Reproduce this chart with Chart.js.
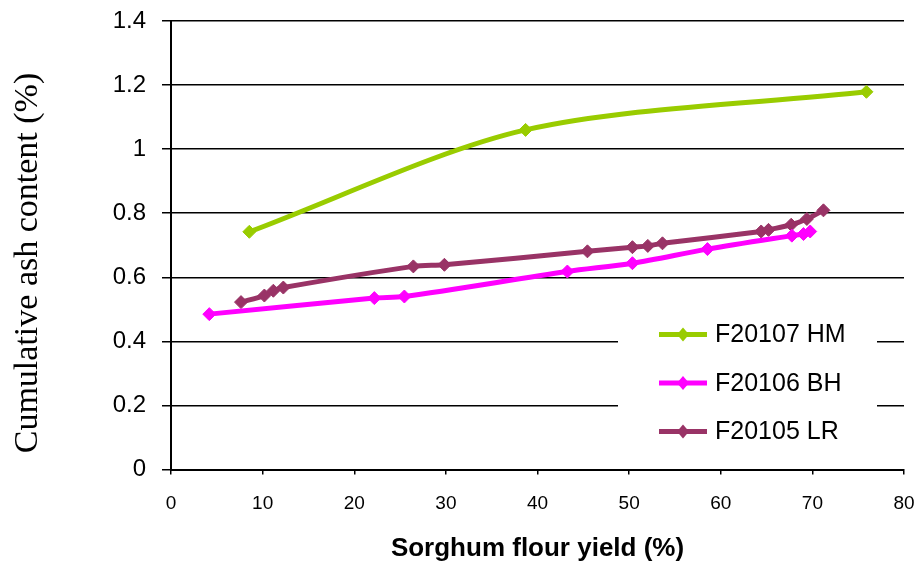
<!DOCTYPE html>
<html>
<head>
<meta charset="utf-8">
<title>Cumulative ash content vs sorghum flour yield</title>
<script src="https://cdn.jsdelivr.net/npm/chart.js@4.4.0/dist/chart.umd.min.js"></script>
<style>
  body { margin: 0; background: #fff; }
</style>
</head>
<body>
<canvas id="ashChart" width="918" height="567"></canvas>
<script>

// values
var seriesNames = ['F20107 HM', 'F20106 BH', 'F20105 LR'];

var hmYield = [8.55, 38.7, 75.9];
var hmAsh = [0.742, 1.06, 1.179];

var bhYield = [4.18, 22.19, 25.47, 43.26, 50.36, 58.55, 67.76, 69.03, 69.76];
var bhAsh = [0.485, 0.535, 0.540, 0.618, 0.644, 0.688, 0.730, 0.735, 0.743];

var lrYield = [7.64, 10.19, 11.17, 12.26, 26.45, 29.84, 45.45, 50.36, 52.04, 53.64, 64.41, 65.21, 67.69, 69.40, 71.21];
var lrAsh = [0.5225, 0.543, 0.558, 0.568, 0.634, 0.639, 0.681, 0.694, 0.698, 0.706, 0.743, 0.748, 0.764, 0.782, 0.809];

var colors = ['#99CC00', '#FF00FF', '#993366'];

function toPoints(xs, ys) {
  var pts = [];
  for (var i = 0; i < xs.length; i++) {
    pts.push({ x: xs[i], y: ys[i] });
  }
  return pts;
}

function makeSet(i, xs, ys) {
  return {
    label: seriesNames[i],
    data: toPoints(xs, ys),
    showLine: true,
    borderColor: colors[i],
    backgroundColor: colors[i],
    borderWidth: 5,
    tension: 0.3,
    pointStyle: 'rectRot',
    pointRadius: 6.5,
    pointBorderWidth: 1,
    pointBorderColor: colors[i],
    pointBackgroundColor: colors[i]
  };
}

// legend drawn inside the plot on a white box, like the original
var boxLegend = {
  id: 'boxLegend',
  afterDraw: function(chart) {
    var ctx = chart.ctx;
    var area = chart.chartArea;
    var left = area.right - 286;
    var top = area.bottom - 162;
    ctx.save();
    ctx.fillStyle = '#fff';
    ctx.fillRect(left, top, 259, 152);
    ctx.font = '25px "Liberation Sans", Arial, sans-serif';
    ctx.textBaseline = 'middle';
    ctx.textAlign = 'left';
    for (var i = 0; i < seriesNames.length; i++) {
      var y = top + 27 + i * 48.5;
      ctx.strokeStyle = colors[i];
      ctx.lineWidth = 5;
      ctx.beginPath();
      ctx.moveTo(left + 41, y);
      ctx.lineTo(left + 89, y);
      ctx.stroke();
      ctx.fillStyle = colors[i];
      ctx.beginPath();
      ctx.moveTo(left + 65, y - 7);
      ctx.lineTo(left + 71, y);
      ctx.lineTo(left + 65, y + 7);
      ctx.lineTo(left + 59, y);
      ctx.closePath();
      ctx.fill();
      ctx.fillStyle = '#000';
      ctx.fillText(seriesNames[i], left + 97, y + 1);
    }
    ctx.restore();
  }
};

// y title in a serif face, centred a bit lower than the axis
var yTitle = {
  id: 'yTitle',
  afterDraw: function(chart) {
    var ctx = chart.ctx;
    ctx.save();
    ctx.translate(28, 263);
    ctx.rotate(-Math.PI / 2);
    ctx.font = '34px "Liberation Serif", "Times New Roman", serif';
    ctx.fillStyle = '#000';
    ctx.textAlign = 'center';
    ctx.textBaseline = 'middle';
    ctx.fillText('Cumulative ash content (%)', 0, 0);
    ctx.restore();
  }
};

var myChart = document.getElementById('ashChart');

var ashChart = new Chart(myChart, {
  type: 'scatter',
  data: {
    datasets: [
      makeSet(0, hmYield, hmAsh),
      makeSet(1, bhYield, bhAsh),
      makeSet(2, lrYield, lrAsh)
    ]
  },
  options: {
    responsive: false,
    animation: false,
    devicePixelRatio: 1,
    layout: { autoPadding: false, padding: { top: 21, right: 14, left: 0, bottom: 0 } },
    plugins: {
      legend: { display: false },
      tooltip: { enabled: false }
    },
    scales: {
      x: {
        type: 'linear',
        min: 0,
        max: 80,
        ticks: {
          stepSize: 10,
          color: '#000',
          padding: 18,
          font: { family: '"Liberation Sans", Arial, sans-serif', size: 19 }
        },
        grid: { drawOnChartArea: false, color: '#000', lineWidth: 1.5, tickLength: 5 },
        border: { color: '#000', width: 2 },
        title: {
          display: true,
          text: 'Sorghum flour yield (%)',
          color: '#000',
          font: { family: '"Liberation Sans", Arial, sans-serif', size: 26, weight: 'bold' },
          padding: { top: 0, bottom: 3 }
        },
        afterFit: function(scale) {
          scale.height = 97.5;
          scale.paddingLeft = 0;
          scale.paddingRight = 0;
        }
      },
      y: {
        min: 0,
        max: 1.4,
        ticks: {
          stepSize: 0.2,
          color: '#000',
          padding: 16,
          font: { family: '"Liberation Sans", Arial, sans-serif', size: 24 },
          callback: function(value) { return String(Math.round(value * 10) / 10); }
        },
        grid: { color: '#000', lineWidth: 1.5, tickLength: 9 },
        border: { color: '#000', width: 2 },
        afterFit: function(scale) {
          scale.width = 171;
          scale.paddingTop = 0;
          scale.paddingBottom = 0;
        }
      }
    }
  },
  plugins: [boxLegend, yTitle]
});
</script>
</body>
</html>
